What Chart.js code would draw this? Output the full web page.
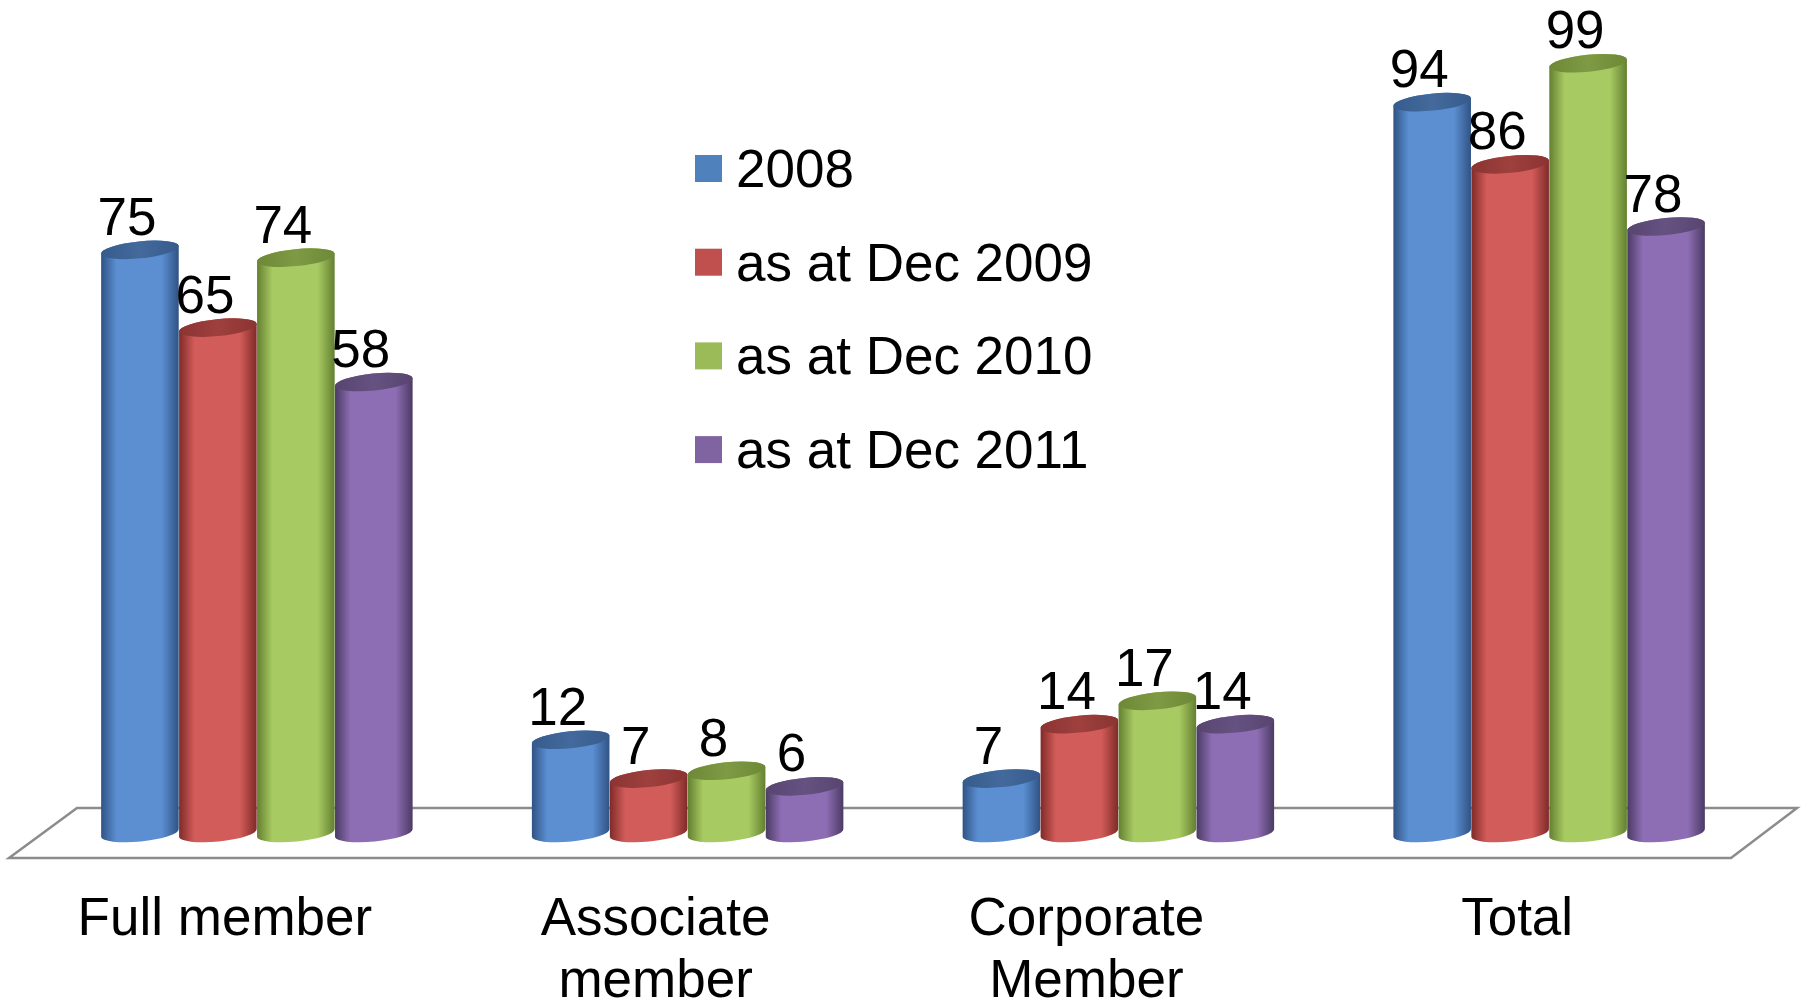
<!DOCTYPE html>
<html>
<head>
<meta charset="utf-8">
<script src="https://cdn.jsdelivr.net/npm/chart.js@4.4.1/dist/chart.umd.min.js"></script>
<style>
  html, body { margin: 0; padding: 0; background: #ffffff; }
  #wrap { position: relative; width: 1806px; height: 1004px; }
</style>
</head>
<body>
<div id="wrap"><canvas id="c"></canvas></div>
<script>
// ---- data ----
const categories = [['Full member'], ['Associate', 'member'], ['Corporate', 'Member'], ['Total']];
const seriesNames = ['2008', 'as at Dec 2009', 'as at Dec 2010', 'as at Dec 2011'];
const values2008 = [75, 12, 7, 94];
const values2009 = [65, 7, 14, 86];
const values2010 = [74, 8, 17, 99];
const values2011 = [58, 6, 14, 78];
const yTicksMin = 0;
const yTicksMax = 100;

// ---- styles ----
const FONT = "'Liberation Sans', Arial, Helvetica, sans-serif";
const legendColors = ['#4F81BD', '#C0504D', '#9BBB59', '#8064A2'];
const bodyDark  = ['#2f5283', '#7e2a28', '#627f30', '#4a3a63'];
const bodyLight = ['#5b8fd2', '#d25c59', '#a8ca62', '#8d6db3'];
const topDark   = ['#365b8c', '#8b3432', '#6d8936', '#57456f'];
const topLight  = ['#44699c', '#9e403e', '#7e9a44', '#665282'];

const cylinderPlugin = {
  id: 'cylinders',
  beforeDatasetsDraw(chart) {
    const ctx = chart.ctx;
    // floor plane
    ctx.save();
    ctx.beginPath();
    ctx.moveTo(9, 858);
    ctx.lineTo(77, 808);
    ctx.lineTo(1797, 808);
    ctx.lineTo(1731, 858);
    ctx.closePath();
    ctx.fillStyle = '#ffffff';
    ctx.fill();
    ctx.strokeStyle = '#8c8c8c';
    ctx.lineWidth = 2.5;
    ctx.stroke();
    ctx.restore();

    const rot = -0.1;
    const nCat = chart.data.labels.length;
    const labels = [];
    for (let i = 0; i < nCat; i++) {
      chart.data.datasets.forEach((ds, di) => {
        const meta = chart.getDatasetMeta(di);
        const el = meta.data[i];
        if (!el) return;
        const cx = el.x, top = el.y, base = el.base, w = el.width;
        const rx = w / 2, ry = 8.5;
        const left = cx - rx, right = cx + rx;
        ctx.save();
        const g = ctx.createLinearGradient(left, 0, right, 0);
        g.addColorStop(0, bodyDark[di]);
        g.addColorStop(0.2, bodyLight[di]);
        g.addColorStop(0.5, bodyLight[di]);
        g.addColorStop(0.78, bodyLight[di]);
        g.addColorStop(1, bodyDark[di]);
        ctx.beginPath();
        ctx.ellipse(cx, base, rx, ry, rot, Math.PI, 0, true);
        ctx.ellipse(cx, top, rx, ry, rot, 0, Math.PI, true);
        ctx.closePath();
        ctx.fillStyle = g;
        ctx.fill();
        // top cap
        const tg = ctx.createLinearGradient(left, 0, right, 0);
        tg.addColorStop(0, topDark[di]);
        tg.addColorStop(0.5, topLight[di]);
        tg.addColorStop(1, topDark[di]);
        ctx.beginPath();
        ctx.ellipse(cx, top, rx, ry, rot, 0, Math.PI * 2);
        ctx.fillStyle = tg;
        ctx.fill();
        ctx.restore();
        labels.push({ x: cx - 13, y: top - 15, text: String(ds.data[i]) });
      });
    }
    ctx.save();
    ctx.fillStyle = '#000000';
    ctx.font = '53px ' + FONT;
    ctx.textAlign = 'center';
    ctx.textBaseline = 'alphabetic';
    labels.forEach(l => ctx.fillText(l.text, l.x, l.y));
    ctx.restore();
    return false;
  },
  afterDraw(chart) {
    const ctx = chart.ctx;
    ctx.save();
    ctx.font = '53px ' + FONT;
    ctx.textAlign = 'left';
    ctx.textBaseline = 'alphabetic';
    chart.data.datasets.forEach((ds, di) => {
      const sqTop = 155 + di * 93.7;
      ctx.fillStyle = legendColors[di];
      ctx.fillRect(695, sqTop, 27, 27);
      ctx.fillStyle = '#000000';
      ctx.fillText(ds.label, 736, sqTop + 32);
    });
    ctx.restore();
  }
};

const seriesValues = [values2008, values2009, values2010, values2011];
const datasets = seriesNames.map((name, i) => ({
  label: name,
  data: seriesValues[i],
  backgroundColor: legendColors[i],
  borderWidth: 0,
  categoryPercentage: 0.724,
  barPercentage: 1.0
}));

new Chart(document.getElementById('c'), {
  type: 'bar',
  data: { labels: categories, datasets: datasets },
  options: {
    responsive: true,
    maintainAspectRatio: false,
    animation: false,
    layout: { padding: { left: 41.5, right: 41.5, top: 55.5, bottom: 0 } },
    plugins: { legend: { display: false }, tooltip: { enabled: false } },
    scales: {
      x: {
        grid: { display: false, drawTicks: false },
        border: { display: false },
        afterFit(scale) { scale.height = 171; },
        ticks: {
          color: '#000000',
          font: { family: FONT, size: 53, lineHeight: 1.17 },
          padding: 56,
          labelOffset: -32,
          maxRotation: 0,
          autoSkip: false
        }
      },
      y: {
        display: false,
        min: yTicksMin,
        max: yTicksMax
      }
    }
  },
  plugins: [cylinderPlugin]
});
</script>
</body>
</html>
